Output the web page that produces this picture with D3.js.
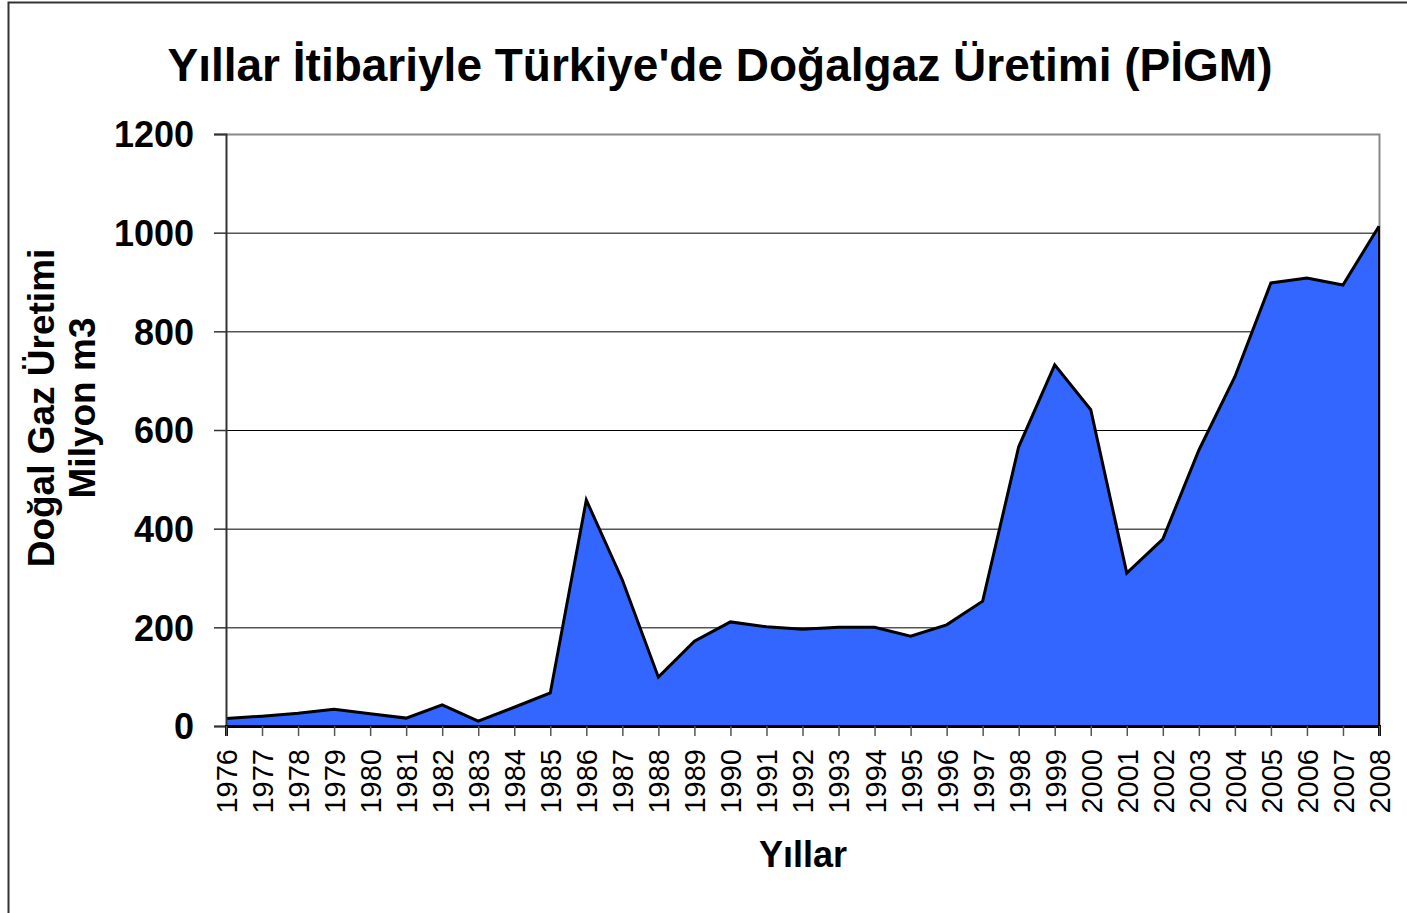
<!DOCTYPE html>
<html>
<head>
<meta charset="utf-8">
<script src="https://cdn.jsdelivr.net/npm/d3@7"></script>
<style>
  body { margin: 0; background: #fff; }
  text { font-family: "Liberation Sans", Arial, sans-serif; }
</style>
</head>
<body>
<script>
var years = d3.range(1976, 2009);
var production = [15, 20, 26, 34, 25, 16, 43, 10, 38, 67, 458, 296, 99, 172, 211, 201, 196, 200, 200, 182,
                  205, 253, 566, 732, 641, 310, 379, 559, 708, 898, 908, 894, 1013];
var yTicks = [0, 200, 400, 600, 800, 1000, 1200];

var width = 1407, height = 913;
var margin = {left: 226, top: 134, right: 1379, bottom: 726};

var svg = d3.select("body").append("svg")
    .attr("width", width)
    .attr("height", height);

// outer chart border
svg.append("rect")
    .attr("x", 8.5).attr("y", 2.5)
    .attr("width", 1410).attr("height", 920)
    .style("fill", "#fff")
    .style("stroke", "#333")
    .style("stroke-width", 2);

var x = d3.scaleLinear().domain([1976, 2008]).range([margin.left, margin.right]);
var y = d3.scaleLinear().domain([0, 1200]).range([margin.bottom, margin.top]);

// gridlines
svg.append("g")
    .selectAll("line")
    .data(yTicks.filter(function(d) { return d > 0 && d < 1200; }))
    .enter().append("line")
    .attr("x1", margin.left).attr("x2", margin.right)
    .attr("y1", function(d) { return y(d) + 0.5; })
    .attr("y2", function(d) { return y(d) + 0.5; })
    .style("stroke", "#000")
    .style("stroke-width", 1);

// plot frame top / right
svg.append("path")
    .attr("d", "M" + margin.left + "," + (margin.top + 0.5) + "H" + (margin.right + 0.5) + "V" + margin.bottom)
    .style("fill", "none")
    .style("stroke", "#888")
    .style("stroke-width", 2);

var data = years.map(function(yr, i) { return {year: yr, value: production[i]}; });

var area = d3.area()
    .x(function(d) { return x(d.year); })
    .y0(y(0))
    .y1(function(d) { return y(d.value); });

var line = d3.line()
    .x(function(d) { return x(d.year); })
    .y(function(d) { return y(d.value); });

svg.append("path")
    .datum(data)
    .attr("d", area)
    .style("fill", "#3366FF");

svg.append("path")
    .datum(data)
    .attr("d", line)
    .style("fill", "none")
    .style("stroke", "#000")
    .style("stroke-width", 3)
    .style("stroke-linejoin", "miter");

// right edge of area
svg.append("line")
    .attr("x1", x(2008)).attr("x2", x(2008))
    .attr("y1", y(production[production.length - 1])).attr("y2", y(0))
    .style("stroke", "#000")
    .style("stroke-width", 2);

// y axis
var yAxis = svg.append("g")
    .attr("transform", "translate(" + margin.left + ",0)")
    .call(d3.axisLeft(y).tickValues(yTicks).tickSize(12).tickPadding(20).tickFormat(d3.format("d")));
yAxis.select(".domain").style("stroke", "#333").style("stroke-width", 2);
yAxis.selectAll(".tick line").style("stroke", "#333").style("stroke-width", 1.5);
yAxis.selectAll("text")
    .style("font-size", "36px")
    .style("font-weight", "bold")
    .style("fill", "#000")
    .attr("dy", "0.36em");

// x axis
var xAxis = svg.append("g")
    .attr("transform", "translate(0," + margin.bottom + ")")
    .call(d3.axisBottom(x).tickValues(years).tickSize(10).tickFormat(d3.format("d")));
xAxis.select(".domain").style("stroke", "#000").style("stroke-width", 3);
xAxis.selectAll(".tick line").style("stroke", "#555").style("stroke-width", 1.5);
xAxis.selectAll("text")
    .attr("transform", "rotate(-90)")
    .attr("x", -23)
    .attr("y", 0)
    .attr("dy", "0.36em")
    .style("text-anchor", "end")
    .style("font-size", "29px")
    .style("fill", "#000");

// title
svg.append("text")
    .attr("x", 720).attr("y", 81)
    .attr("text-anchor", "middle")
    .style("font-size", "46px")
    .style("font-weight", "bold")
    .text("Yıllar İtibariyle Türkiye'de Doğalgaz Üretimi (PİGM)");

// x axis title
svg.append("text")
    .attr("x", 803).attr("y", 867)
    .attr("text-anchor", "middle")
    .style("font-size", "36px")
    .style("font-weight", "bold")
    .text("Yıllar");

// y axis title
var yTitle = svg.append("text")
    .attr("transform", "translate(54,408) rotate(-90)")
    .attr("text-anchor", "middle")
    .style("font-size", "37px")
    .style("font-weight", "bold");
yTitle.append("tspan").attr("x", 0).attr("y", 0).text("Doğal Gaz Üretimi");
yTitle.append("tspan").attr("x", 0).attr("y", 41).text("Milyon m3");
</script>
</body>
</html>
